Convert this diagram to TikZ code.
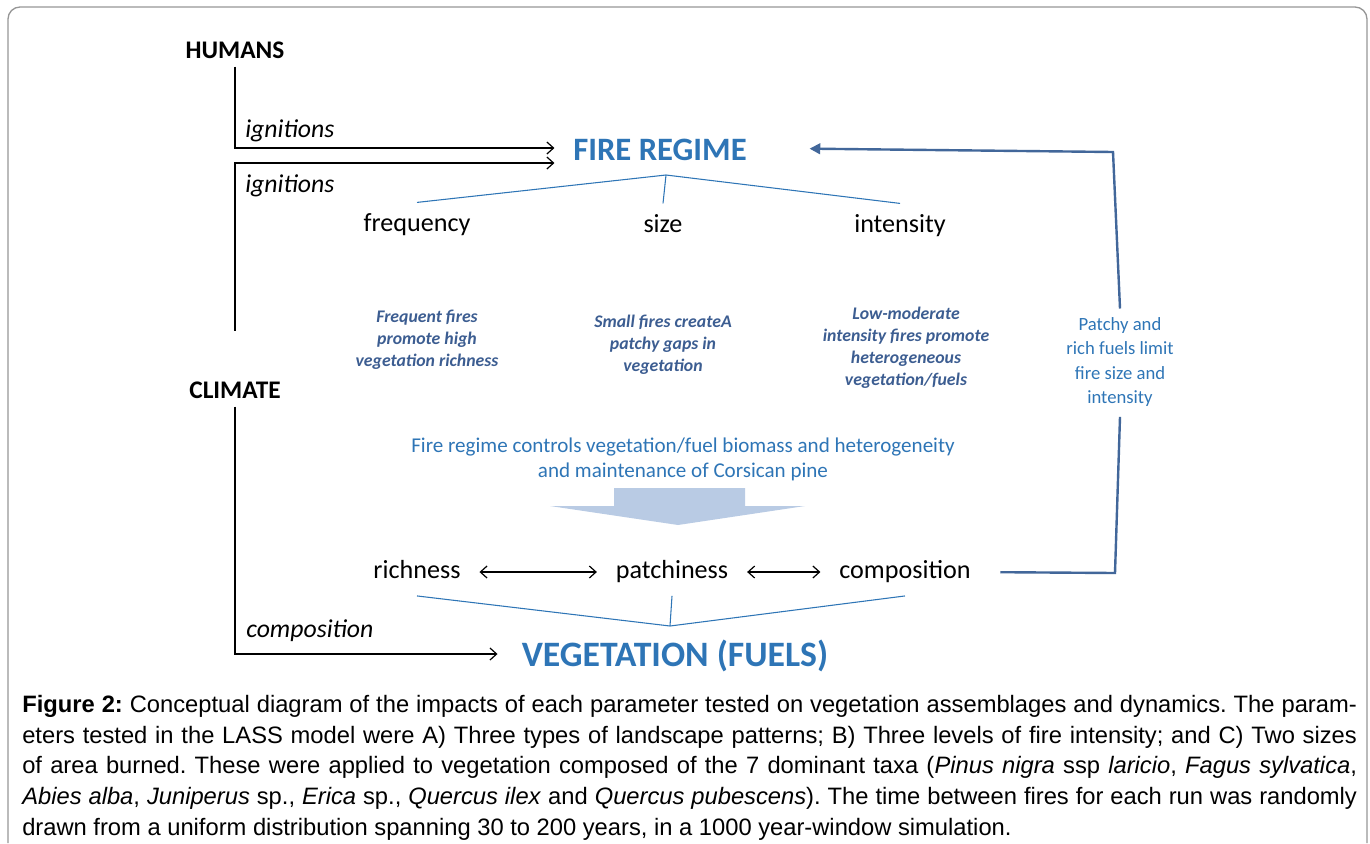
\documentclass[tikz,border=0pt]{standalone}
\usepackage{fontspec}
\setmainfont{Carlito}
\newfontfamily\capfont{Liberation Sans}
\usetikzlibrary{positioning,arrows.meta}

\definecolor{regimeblue}{RGB}{46,117,182}
\definecolor{noteblue}{RGB}{60,93,145}
\definecolor{loopblue}{RGB}{66,103,154}
\definecolor{flowblue}{RGB}{185,203,228}
\definecolor{framegray}{RGB}{150,150,150}

\begin{document}
\frenchspacing
\begin{tikzpicture}[x=0.75pt,y=-0.75pt,
    driver/.style={inner sep=2pt, font=\fontsize{19}{21}\selectfont\bfseries},
    title/.style={inner sep=2pt, text=regimeblue, font=\fontsize{24.5}{28}\selectfont\bfseries},
    param/.style={inner sep=2pt, text height=13.5pt, text depth=4pt, font=\fontsize{19.6}{22}\selectfont},
    cue/.style={inner sep=0pt, anchor=west, font=\fontsize{19.3}{22}\selectfont\itshape},
    effect/.style={align=center, text=noteblue, font=\fontsize{13.3}{16.5}\selectfont\bfseries\itshape},
    remark/.style={align=center, text=regimeblue, font=\fontsize{15.8}{18.7}\selectfont},
    flow/.style={-{Straight Barb[length=5pt,width=9pt]}, line width=0.9pt},
    branch/.style={draw=regimeblue, line width=0.8pt},
    loopline/.style={draw=loopblue, line width=1.8pt}]

    \useasboundingbox (0,0) rectangle (1370,843);
    \draw[framegray, line width=1pt, rounded corners=9pt] (8,843) -- (8,7) -- (1367,7) -- (1367,843);

    % Drivers and main boxes
    \node[driver] (humans) at (235,50) {HUMANS};
    \node[driver] (climate) at (235,390) {CLIMATE};
    \node[title] (fire) at (660,150) {FIRE REGIME};
    \node[title, font=\fontsize{26.8}{30}\selectfont\bfseries] (veg) at (675,656) {VEGETATION (FUELS)};

    % Fire regime parameters
    \node[param] (freq) at (417,225) {frequency};
    \node[param] (size) at (663,226) {size};
    \node[param] (inten) at (900,226) {intensity};
    \coordinate (fire_apex) at (666,175);

    % Vegetation parameters
    \node[param] (rich) at (417,572) {richness};
    \node[param] (patch) at (672,572) {patchiness};
    \node[param] (comp) at (905,572) {composition};
    \coordinate (veg_apex) at (670,626);

    % Effects of fire
    \node[effect] (eff_freq) at (427,340) {Frequent fires\\promote high\\vegetation richness};
    \node[effect] (eff_size) at (663,345) {Small fires createA\\patchy gaps in\\vegetation};
    \node[effect] (eff_inten) at (906,348) {Low-moderate\\intensity fires promote\\heterogeneous\\vegetation/fuels};

    % Control of vegetation
    \node[remark] (controls) at (683,459) {Fire regime controls vegetation/fuel biomass and heterogeneity\\and maintenance of Corsican pine};
    \fill[flowblue] (614,488) -- (745,488) -- (745,506) -- (805,506) -- (678,525) -- (550,506) -- (614,506) -- cycle;

    % Feedback
    \node[remark, font=\fontsize{14}{18.4}\selectfont] (limit) at (1120,362) {Patchy and\\rich fuels limit\\fire size and\\intensity};

    % Ignitions and composition
    \draw[flow, shorten >=12pt] ([yshift=-4pt]humans.south) |- ([yshift=1.5pt]fire.west);
    \draw[flow, shorten >=12pt] ([yshift=36pt]climate.north) |- ([yshift=-9.75pt]fire.west);
    \draw[flow, shorten >=16pt] ([yshift=-4pt]climate.south) |- ([yshift=1.5pt]veg.west);
    \node[cue] (ign_h) at (245,131) {ignitions};
    \node[cue] (ign_c) at (245,186) {ignitions};
    \node[cue] (comp_c) at (246,631) {composition};

    % Branching lines
    \draw[branch] ([yshift=6pt]freq.north) -- (fire_apex) -- ([yshift=6pt]inten.north);
    \draw[branch] (fire_apex) -- ([yshift=6pt]size.north);
    \draw[branch] ([yshift=-7pt]rich.south) -- (veg_apex) -- ([yshift=-7pt]comp.south);
    \draw[branch] ([yshift=-7pt]patch.south) -- (veg_apex);

    % Interactions
    \draw[{Straight Barb[length=5pt,width=9pt]}-{Straight Barb[length=5pt,width=9pt]}, line width=0.9pt, shorten <=12pt, shorten >=12pt] (rich) -- (patch);
    \draw[{Straight Barb[length=5pt,width=9pt]}-{Straight Barb[length=5pt,width=9pt]}, line width=0.9pt, shorten <=12pt, shorten >=12pt] (patch) -- (comp);

    % Feedback loop
    \draw[loopline, shorten <=20pt] (comp.east) -- (1115,573) -- ([yshift=-4pt]limit.south);
    \draw[loopline, -{Triangle[length=8pt,width=8pt]}, shorten >=45pt] ([yshift=3pt]limit.north) -- (1113,152) -- ([yshift=1.5pt]fire.east);

    % Caption
    \node[anchor=north west, inner sep=0pt, text width=1001pt, align=justify,
          font=\capfont\fontsize{17.8}{23}\selectfont] (caption) at (22,695)
      {\textbf{Figure 2:} Conceptual diagram of the impacts of each parameter tested on vegetation assemblages and dynamics. The param-\linebreak
       eters tested in the LASS model were A) Three types of landscape patterns; B) Three levels of fire intensity; and C) Two sizes\linebreak
       of area burned. These were applied to vegetation composed of the 7 dominant taxa (\textit{Pinus nigra} ssp \textit{laricio}, \textit{Fagus sylvatica},\linebreak
       \textit{Abies alba}, \textit{Juniperus} sp., \textit{Erica} sp., \textit{Quercus ilex} and \textit{Quercus pubescens}). The time between fires for each run was randomly\linebreak
       drawn from a uniform distribution spanning 30 to 200 years, in a 1000 year-window simulation.};

\end{tikzpicture}
\end{document}
